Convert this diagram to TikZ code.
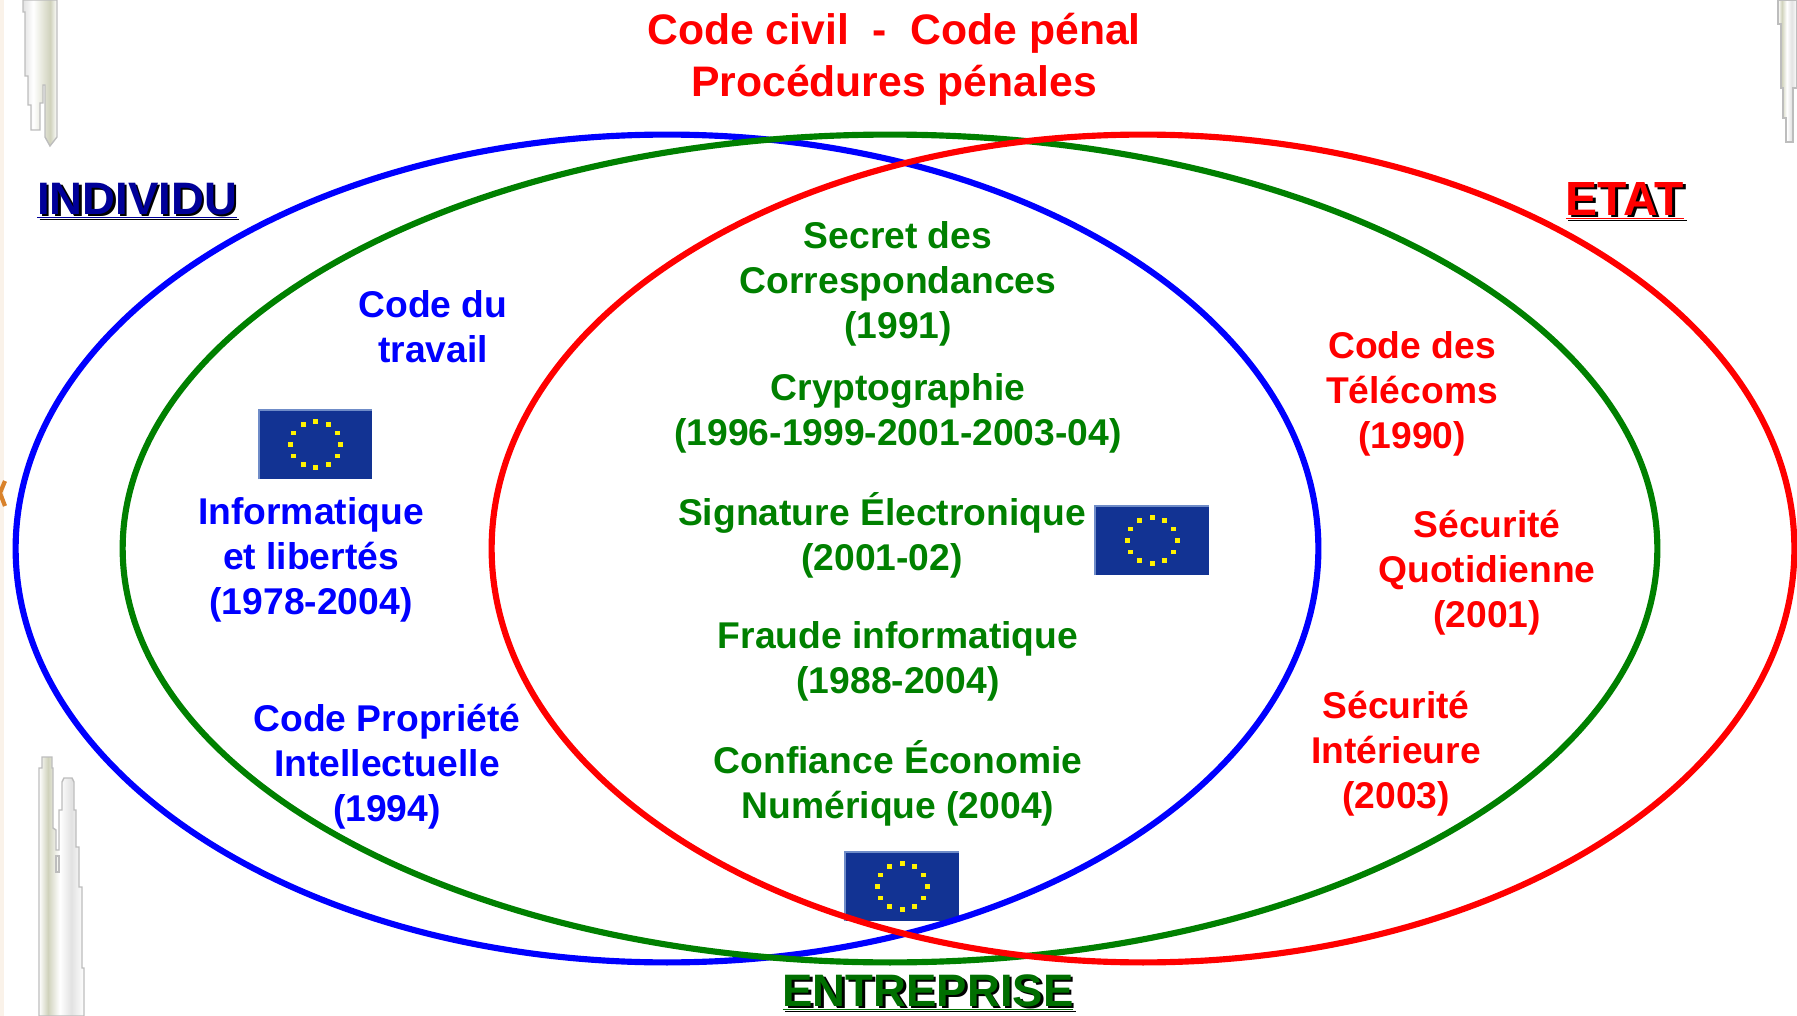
\documentclass[tikz,border=0pt]{standalone}
\usepackage{fontspec}
\setmainfont{Liberation Sans}
\usetikzlibrary{positioning,shapes.geometric,calc}
\definecolor{indblue}{HTML}{0000FF}
\definecolor{entgreen}{HTML}{008000}
\definecolor{etatred}{HTML}{FF0000}
\definecolor{darkblue}{HTML}{000099}
\definecolor{darkgreen}{HTML}{006F00}
\definecolor{flagblue}{HTML}{123393}
\definecolor{flagedge}{HTML}{6F8CC8}
\definecolor{flagstar}{HTML}{FFF200}
\definecolor{towergray}{HTML}{BDBDBD}
\definecolor{towerolive}{HTML}{D0D2BC}
\definecolor{towerlight}{HTML}{E2E2E2}
\definecolor{creamstrip}{HTML}{FAF2E9}
\definecolor{markorange}{HTML}{D9822B}
\pgfdeclarehorizontalshading{uppershade}{100bp}{color(0bp)=(white); color(25bp)=(towerlight); color(40bp)=(white); color(65bp)=(towerolive); color(75bp)=(white); color(100bp)=(white)}
\pgfdeclarehorizontalshading{lowershade}{100bp}{color(0bp)=(white); color(25bp)=(white); color(35bp)=(towerolive); color(48bp)=(white); color(61bp)=(towerlight); color(75bp)=(white); color(100bp)=(white)}

\begin{document}
\begin{tikzpicture}[
    x=0.02cm, y=-0.02cm,
    every node/.style={font=\fontsize{21.2}{25.6}\selectfont\bfseries, align=center, inner sep=0pt},
    zone/.style={ellipse, draw=#1, line width=3.5pt, minimum height=16.56cm},
    entry/.style={text=#1},
    heading/.style={font=\fontsize{25.9}{30}\selectfont\bfseries, text=#1},
    bigheading/.style={font=\fontsize{27.3}{30}\selectfont\bfseries, text=#1},
    flag/.style={rectangle, fill=flagblue, minimum width=2.26cm, minimum height=1.38cm},
    star/.style={rectangle, fill=flagstar, minimum width=0.1cm, minimum height=0.09cm},
    tower/.style={draw=towergray, line width=0.8pt, shading=#1},
]

% === Page background ===
\path[use as bounding box] (0,0) rectangle (1797,1016);
\fill[creamstrip] (0,0) rectangle (4,1016);
\draw[markorange, line width=2.4pt] (5,481) -- (0,493) -- (5,506);

% === Towers ===
\draw[tower=uppershade] (23,0) -- (23,12) -- (25,12) -- (25,76) -- (28,76) -- (28,105) -- (31,105) -- (31,130)
    -- (40,130) -- (40,103) -- (43,103) -- (43,85) -- (45,85) -- (45,137) -- (50,146) -- (57,137) -- (57,0) -- cycle;
\draw[tower=lowershade] (39,1016) -- (39,768) -- (42,768) -- (42,757) -- (52,757) -- (52,768) -- (53,768) -- (53,828)
    -- (56,830) -- (56,850) -- (59,850) -- (59,810) -- (62,810) -- (62,782) -- (64,778) -- (72,778) -- (74,782)
    -- (74,810) -- (76,810) -- (76,847) -- (79,847) -- (79,887) -- (82,887) -- (82,968) -- (84,968) -- (84,1016) -- cycle;
\draw[towergray, line width=0.8pt] (56,856) rectangle (59,872);
\draw[tower=lowershade] (1778,0) -- (1778,24) -- (1781,24) -- (1781,88) -- (1783,88) -- (1783,118) -- (1786,118)
    -- (1786,142) -- (1793,142) -- (1793,88) -- (1797,88) -- (1797,0) -- cycle;

% === Flags ===
\foreach \name/\fx/\fy in {flagleft/315.5/444.5, flagright/1152/540.5, flagbottom/902/886.5} {
    \node[flag] (\name) at (\fx,\fy) {};
    \draw[flagedge, line width=1pt] (\name.south west) -- (\name.north west) -- (\name.north east);
    \foreach \a in {0,30,...,330} {
        \node[star] (\name-\a) at ($(\name.center)+({25*cos(\a)},{23*sin(\a)})$) {};
    }
}

% === Zones ===
\node[zone=indblue, minimum width=26.06cm] (individu) at (667,548.5) {};
\node[zone=entgreen, minimum width=30.7cm] (entreprise) at (890,548.5) {};
\node[zone=etatred, minimum width=26.06cm] (etat) at (1143,548.5) {};

% === Title ===
\node[font=\fontsize{24.3}{29.4}\selectfont\bfseries, text=etatred] (title) at (894,59)
    {Code civil \ - \ Code pénal\\Procédures pénales};

% === Headings ===
\node[heading=black] at (139.5,203) {\underline{INDIVIDU}};
\node[heading=darkblue] (indlabel) at (137,201) {\underline{INDIVIDU}};
\node[bigheading=black] at (1627.5,203) {\underline{ETAT}};
\node[bigheading=etatred] (etatlabel) at (1625,201) {\underline{ETAT}};
\node[heading=black] at (930.5,995) {\underline{ENTREPRISE}};
\node[heading=darkgreen] (entlabel) at (928,993) {\underline{ENTREPRISE}};

% === Blue entries ===
\node[entry=indblue] (travail) at (433,327) {Code du\\travail};
\node[entry=indblue] (libertes) at (311,560) {Informatique\\et libertés\\(1978-2004)};
\node[entry=indblue] (propriete) at (387,767) {Code Propriété\\Intellectuelle\\(1994)};

% === Green entries ===
\node[entry=entgreen] (secret) at (898,284) {Secret des\\Correspondances\\(1991)};
\node[entry=entgreen] (crypto) at (898,413) {Cryptographie\\(1996-1999-2001-2003-04)};
\node[entry=entgreen] (signature) at (882,535) {Signature Électronique\\(2001-02)};
\node[entry=entgreen] (fraude) at (898,661) {Fraude informatique\\(1988-2004)};
\node[entry=entgreen] (confiance) at (898,783) {Confiance Économie\\Numérique (2004)};

% === Red entries ===
\node[entry=etatred] (telecoms) at (1412,394) {Code des\\Télécoms\\(1990)};
\node[entry=etatred] (securite) at (1487,573) {Sécurité\\Quotidienne\\(2001)};
\node[entry=etatred] (interieure) at (1396,754) {Sécurité\\Intérieure\\(2003)};

\end{tikzpicture}
\end{document}
